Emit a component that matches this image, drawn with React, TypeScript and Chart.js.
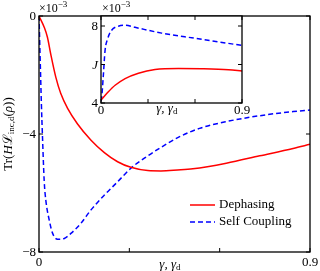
import { useEffect, useRef } from "react";
import { Chart, registerables } from "chart.js";
Chart.register(...registerables);

const FONT = '"Liberation Serif","DejaVu Serif",serif';

// Main panel: Tr(H L_inc,d(rho)) in units of 1e-3
const dephX = [0, 0.0173, 0.028, 0.039, 0.056, 0.072, 0.095, 0.128, 0.172, 0.217, 0.261, 0.305, 0.361, 0.405, 0.46, 0.511, 0.622, 0.733, 0.844, 0.9];
const dephY = [0, -0.38, -0.72, -1.29, -2.08, -2.62, -3.13, -3.66, -4.2, -4.63, -4.94, -5.13, -5.24, -5.25, -5.22, -5.18, -4.99, -4.74, -4.49, -4.35];
const selfX = [0, 0.004, 0.008, 0.0116, 0.0173, 0.0226, 0.034, 0.045, 0.0615, 0.084, 0.106, 0.139, 0.172, 0.217, 0.261, 0.305, 0.35, 0.401, 0.467, 0.533, 0.622, 0.733, 0.844, 0.9];
const selfY = [0, -1.5, -3.0, -4.1, -5.6, -6.24, -6.92, -7.36, -7.57, -7.54, -7.37, -7.03, -6.58, -6.07, -5.62, -5.16, -4.82, -4.48, -4.09, -3.81, -3.58, -3.38, -3.24, -3.19];

// Inset: J in units of 1e-3
const inDephX = [0, 0.0045, 0.047, 0.09, 0.154, 0.239, 0.345, 0.494, 0.644, 0.814, 0.9];
const inDephY = [4.15, 4.19, 4.58, 4.92, 5.27, 5.55, 5.74, 5.79, 5.78, 5.73, 5.66];
const inSelfX = [0, 0.0045, 0.0147, 0.0256, 0.043, 0.068, 0.111, 0.154, 0.217, 0.388, 0.601, 0.9];
const inSelfY = [4.1, 4.3, 5.4, 6.7, 7.35, 7.78, 7.99, 8.04, 7.93, 7.63, 7.36, 6.99];

const seriesNames = ["Dephasing", "Self Coupling"];
const mainXTicks = [0, 0.3, 0.6, 0.9];
const mainXTickLabels = ["0", "", "", "0.9"];
const mainYTicks = [0, -4, -8];
const mainYTickLabels = ["0", "\u22124", "\u22128"];
const inXTicks = [0, 0.3, 0.6, 0.9];
const inXTickLabels = ["0", "", "", "0.9"];
const inYTicks = [4, 6, 8];
const inYTickLabels = ["4", "J", "8"];

type Part = { t: string; size: number; italic?: boolean; dy?: number };

function drawParts(ctx: CanvasRenderingContext2D, parts: Part[], x: number, y: number, align: "left" | "center" | "right") {
  ctx.save();
  ctx.textBaseline = "middle";
  ctx.textAlign = "left";
  let w = 0;
  for (const p of parts) {
    ctx.font = `${p.italic ? "italic " : ""}${p.size}px ${FONT}`;
    w += ctx.measureText(p.t).width;
  }
  let cx = align === "left" ? x : align === "center" ? x - w / 2 : x - w;
  for (const p of parts) {
    ctx.font = `${p.italic ? "italic " : ""}${p.size}px ${FONT}`;
    ctx.fillText(p.t, cx, y + (p.dy || 0));
    cx += ctx.measureText(p.t).width;
  }
  ctx.restore();
}

const gammaLabel: Part[] = [
  { t: "\u03b3, \u03b3", size: 13, italic: true },
  { t: "d", size: 9, dy: 3 },
];
const sciLabel: Part[] = [
  { t: "\u00d710", size: 12 },
  { t: "\u22123", size: 9, dy: -4 },
];

function frameAndTicks(chart: any, xt: number[], yt: number[]) {
  const { ctx, chartArea: a, scales } = chart;
  ctx.save();
  ctx.strokeStyle = "#000";
  ctx.lineWidth = 1.3;
  ctx.strokeRect(a.left, a.top, a.right - a.left, a.bottom - a.top);
  ctx.lineWidth = 1;
  const L = 4;
  ctx.beginPath();
  for (const v of xt) {
    const px = scales.x.getPixelForValue(v);
    ctx.moveTo(px, a.bottom);
    ctx.lineTo(px, a.bottom - L);
    ctx.moveTo(px, a.top);
    ctx.lineTo(px, a.top + L);
  }
  for (const v of yt) {
    const py = scales.y.getPixelForValue(v);
    ctx.moveTo(a.left, py);
    ctx.lineTo(a.left + L, py);
    ctx.moveTo(a.right, py);
    ctx.lineTo(a.right - L, py);
  }
  ctx.stroke();
  ctx.restore();
}

const mainPlugin = {
  id: "mainDeco",
  afterDraw(chart: any) {
    const { ctx, chartArea: a, scales } = chart;
    frameAndTicks(chart, mainXTicks, mainYTicks);
    ctx.save();
    ctx.fillStyle = "#000";
    mainYTicks.forEach((v, i) => {
      drawParts(ctx, [{ t: mainYTickLabels[i], size: 13 }], a.left - 3, scales.y.getPixelForValue(v) + 1, "right");
    });
    mainXTicks.forEach((v, i) => {
      if (mainXTickLabels[i]) drawParts(ctx, [{ t: mainXTickLabels[i], size: 13 }], scales.x.getPixelForValue(v), a.bottom + 11, "center");
    });
    drawParts(ctx, gammaLabel, scales.x.getPixelForValue(0.435), a.bottom + 13, "center");
    drawParts(ctx, sciLabel, a.left, 9, "left");
    // y title
    ctx.save();
    ctx.translate(9, (a.top + a.bottom) / 2);
    ctx.rotate(-Math.PI / 2);
    drawParts(ctx, [
      { t: "Tr(", size: 13 },
      { t: "H", size: 13, italic: true },
      { t: "\u2112", size: 13 },
      { t: "inc,d", size: 9, dy: 3 },
      { t: "(", size: 13 },
      { t: "\u03c1", size: 13, italic: true },
      { t: "))", size: 13 },
    ], 0, 0, "center");
    ctx.restore();
    // legend
    const lx0 = 190, lx1 = 215, ly = [205, 222];
    const cols = ["#ff0000", "#0000ff"];
    seriesNames.forEach((n, i) => {
      ctx.save();
      ctx.strokeStyle = cols[i];
      ctx.lineWidth = 1.5;
      if (i === 1) ctx.setLineDash([5, 3]);
      ctx.beginPath();
      ctx.moveTo(lx0, ly[i]);
      ctx.lineTo(lx1, ly[i]);
      ctx.stroke();
      ctx.restore();
      drawParts(ctx, [{ t: n, size: 13 }], 219, ly[i], "left");
    });
    ctx.restore();
  },
};

const insetPlugin = {
  id: "insetDeco",
  beforeDraw(chart: any) {
    const { ctx, chartArea: a } = chart;
    ctx.save();
    ctx.fillStyle = "#fff";
    ctx.fillRect(a.left, a.top, a.right - a.left, a.bottom - a.top);
    ctx.restore();
  },
  afterDraw(chart: any) {
    const { ctx, chartArea: a, scales } = chart;
    frameAndTicks(chart, inXTicks, inYTicks);
    ctx.save();
    ctx.fillStyle = "#000";
    inYTicks.forEach((v, i) => {
      drawParts(ctx, [{ t: inYTickLabels[i], size: 13, italic: inYTickLabels[i] === "J" }], a.left - 3, scales.y.getPixelForValue(v) + 1, "right");
    });
    inXTicks.forEach((v, i) => {
      if (inXTickLabels[i]) drawParts(ctx, [{ t: inXTickLabels[i], size: 13 }], scales.x.getPixelForValue(v), a.bottom + 8, "center");
    });
    drawParts(ctx, gammaLabel, scales.x.getPixelForValue(0.42), a.bottom + 6, "center");
    drawParts(ctx, sciLabel, a.left + 1, 9, "left");
    ctx.restore();
  },
};

function pts(xs: number[], ys: number[]) {
  return xs.map((x, i) => ({ x, y: ys[i] }));
}

function makeConfig(d1: any[], d2: any[], xmin: number, xmax: number, ymin: number, ymax: number, padding: any, plugin: any): any {
  return {
    type: "line",
    data: {
      datasets: [
        { label: seriesNames[0], data: d1, borderColor: "#ff0000", borderWidth: 1.5, pointRadius: 0, cubicInterpolationMode: "monotone", fill: false },
        { label: seriesNames[1], data: d2, borderColor: "#0000ff", borderWidth: 1.5, borderDash: [5, 3], pointRadius: 0, cubicInterpolationMode: "monotone", fill: false },
      ],
    },
    options: {
      responsive: false,
      animation: false,
      events: [],
      layout: { padding },
      plugins: { legend: { display: false }, tooltip: { enabled: false } },
      scales: {
        x: { type: "linear", min: xmin, max: xmax, display: false },
        y: { type: "linear", min: ymin, max: ymax, display: false },
      },
    },
    plugins: [plugin],
  };
}

export default function App() {
  const mainRef = useRef<HTMLCanvasElement>(null);
  const insetRef = useRef<HTMLCanvasElement>(null);
  useEffect(() => {
    document.body.style.margin = "0";
    const c1 = new Chart(mainRef.current!, makeConfig(pts(dephX, dephY), pts(selfX, selfY), 0, 0.9, -8, 0, { left: 39, right: 10, top: 16, bottom: 19 }, mainPlugin));
    const c2 = new Chart(insetRef.current!, makeConfig(pts(inDephX, inDephY), pts(inSelfX, inSelfY), 0, 0.9, 4, 8.52, { left: 101, right: 78, top: 16, bottom: 168 }, insetPlugin));
    return () => {
      c1.destroy();
      c2.destroy();
    };
  }, []);
  return (
    <div style={{ position: "relative", width: 320, height: 271, background: "#fff" }}>
      <canvas ref={mainRef} width={320} height={271} style={{ position: "absolute", left: 0, top: 0, width: 320, height: 271 }} />
      <canvas ref={insetRef} width={320} height={271} style={{ position: "absolute", left: 0, top: 0, width: 320, height: 271 }} />
    </div>
  );
}
